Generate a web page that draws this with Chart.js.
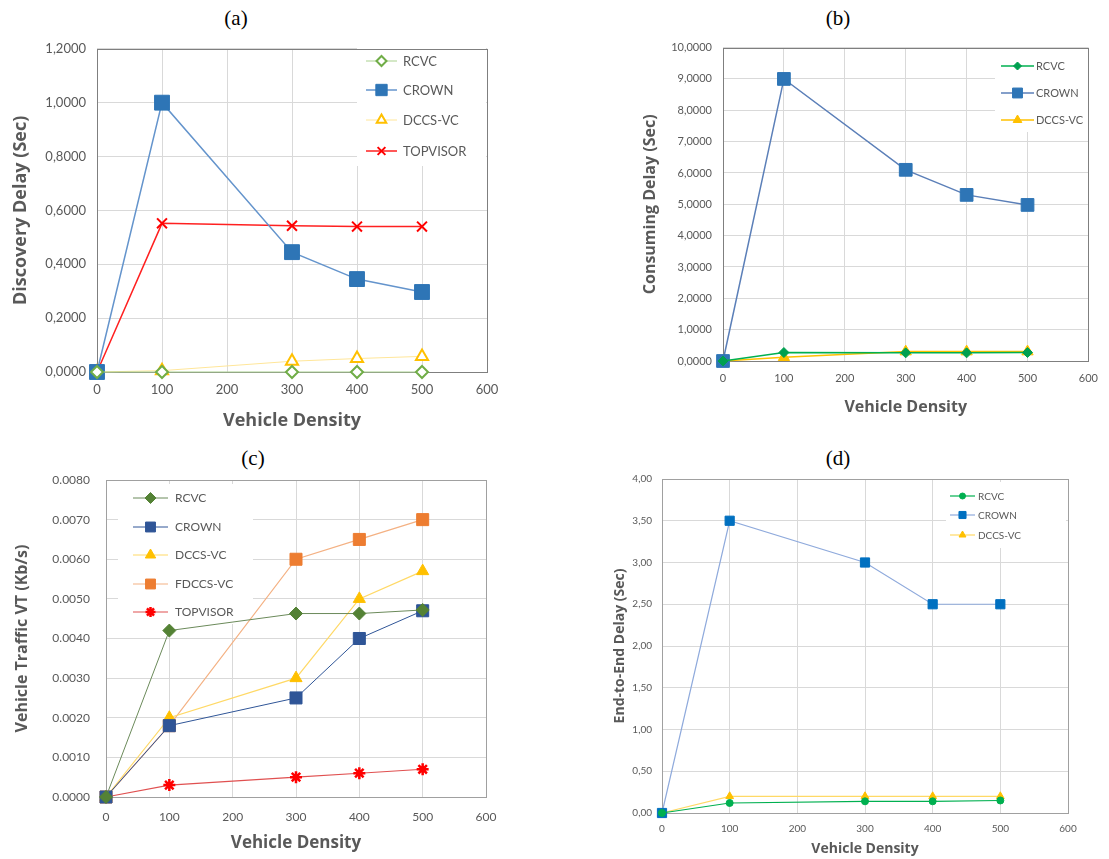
<!DOCTYPE html>
<html>
<head>
<meta charset="utf-8">
<script src="https://cdn.jsdelivr.net/npm/chart.js@4.4.1/dist/chart.umd.min.js"></script>
<style>
  html,body{margin:0;padding:0;background:#fff;}
  #wrap{position:relative;width:1109px;height:859px;background:#fff;overflow:hidden;}
  canvas{position:absolute;}
  .lbl{position:absolute;width:60px;text-align:center;font-family:"Liberation Serif","DejaVu Serif",serif;font-size:21px;color:#000;line-height:24px;}
</style>
</head>
<body>
<div id="wrap">
  <div class="lbl" style="left:206px;top:6px">(a)</div>
  <div class="lbl" style="left:808px;top:6px">(b)</div>
  <div class="lbl" style="left:223px;top:446px">(c)</div>
  <div class="lbl" style="left:808px;top:446px">(d)</div>
  <canvas id="ca" width="560" height="405" style="left:0px;top:30px;width:560px;height:405px"></canvas>
  <canvas id="cb" width="549" height="400" style="left:560px;top:30px;width:549px;height:400px"></canvas>
  <canvas id="cc" width="560" height="419" style="left:0px;top:440px;width:560px;height:419px"></canvas>
  <canvas id="cd" width="549" height="419" style="left:560px;top:440px;width:549px;height:419px"></canvas>
</div>
<script>
// ---------------- DATA ----------------
const density = [0, 100, 300, 400, 500];
const xTickValues = [0, 100, 200, 300, 400, 500, 600];

// (a) Discovery Delay (Sec)
const aRCVC     = [0, 0, 0, 0, 0];
const aCROWN    = [0, 1.0, 0.445, 0.345, 0.297];
const aDCCS     = [0, 0.005, 0.040, 0.050, 0.058];
const aTOPVISOR = [0, 0.552, 0.543, 0.540, 0.540];

// (b) Consuming Delay (Sec)
const bRCVC  = [0, 0.27, 0.26, 0.26, 0.27];
const bCROWN = [0, 9.0, 6.1, 5.3, 4.98];
const bDCCS  = [0, 0.12, 0.30, 0.30, 0.30];

// (c) Vehicle Traffic VT (Kb/s)
const cRCVC     = [0, 0.0042, 0.00463, 0.00463, 0.00472];
const cCROWN    = [0, 0.0018, 0.0025, 0.0040, 0.0047];
const cDCCS     = [0, 0.0020, 0.0030, 0.0050, 0.0057];
const cFDCCS    = [0, 0.0018, 0.0060, 0.0065, 0.0070];
const cTOPVISOR = [0, 0.0003, 0.0005, 0.0006, 0.0007];

// (d) End-to-End Delay (Sec)
const dRCVC  = [0, 0.12, 0.14, 0.14, 0.15];
const dCROWN = [0, 3.5, 3.0, 2.5, 2.5];
const dDCCS  = [0, 0.20, 0.20, 0.20, 0.20];

// tick value lists
const aYTicks = [0, 0.2, 0.4, 0.6, 0.8, 1.0, 1.2];
const bYTicks = [0, 1, 2, 3, 4, 5, 6, 7, 8, 9, 10];
const cYTicks = [0, 0.001, 0.002, 0.003, 0.004, 0.005, 0.006, 0.007, 0.008];
const dYTicks = [0, 0.5, 1.0, 1.5, 2.0, 2.5, 3.0, 3.5, 4.0];

// ---------------- HELPERS ----------------
const pts = arr => density.map((x, i) => ({x: x, y: arr[i]}));

function ds(label, data, o) {
  return {
    label: label,
    data: pts(data),
    borderColor: o.line,
    borderWidth: o.lw || 1.5,
    pointStyle: o.style,
    pointRadius: o.r,
    pointHoverRadius: o.r,
    pointBackgroundColor: o.hollow ? '#ffffff' : o.mk,
    pointBorderColor: o.mk,
    pointBorderWidth: o.mbw || 1,
    tension: o.tension || 0,
    clip: false,
    fill: false,
    legR: o.legR
  };
}

const TICK_COLOR = '#595959';
const TITLE_COLOR = '#595959';

function drawMarker(ctx, style, r, x, y, bw) {
  if (Chart.helpers && Chart.helpers.drawPoint) {
    Chart.helpers.drawPoint(ctx, {pointStyle: style, radius: r, rotation: 0, borderWidth: bw}, x, y);
  } else {
    ctx.beginPath(); ctx.arc(x, y, r, 0, Math.PI * 2); ctx.fill(); ctx.stroke();
  }
}

// legend box + legend entries inside the plot, then the plot frame on top
const legendPlugin = {
  id: 'inLegend',
  beforeDatasetsDraw(chart, args, opts) {
    const ctx = chart.ctx;
    const a = chart.chartArea;
    ctx.save();
    if (opts && opts.rows) {
      const ox = opts.ox, oy = opts.oy;
      if (opts.box) {
        ctx.fillStyle = '#ffffff';
        ctx.fillRect(opts.box.x - ox, opts.box.y - oy, opts.box.w, opts.box.h);
      }
      ctx.font = opts.size + 'px Lato, "Open Sans", sans-serif';
      ctx.textBaseline = 'middle';
      ctx.textAlign = 'left';
      chart.data.datasets.forEach((d, i) => {
        const y = opts.rows[i] - oy;
        const x0 = opts.line[0] - ox, x1 = opts.line[1] - ox;
        ctx.strokeStyle = d.borderColor;
        ctx.lineWidth = d.borderWidth;
        ctx.beginPath(); ctx.moveTo(x0, y); ctx.lineTo(x1, y); ctx.stroke();
        ctx.fillStyle = d.pointBackgroundColor;
        ctx.strokeStyle = d.pointBorderColor;
        ctx.lineWidth = d.pointBorderWidth;
        drawMarker(ctx, d.pointStyle, d.legR || d.pointRadius, (x0 + x1) / 2, y, d.pointBorderWidth);
        ctx.fillStyle = TICK_COLOR;
        ctx.fillText(d.label, opts.textX - ox, y + 0.5);
      });
    }
    ctx.strokeStyle = (opts && opts.frame) || '#8c8c8c';
    ctx.lineWidth = 1;
    ctx.strokeRect(Math.round(a.left) + 0.5, Math.round(a.top) + 0.5,
                   Math.round(a.right - a.left), Math.round(a.bottom - a.top));
    ctx.restore();
  }
};

function makeChart(id, L, datasets, yOpts, xTitle, yTitle, legend) {
  const lhX = L.xTitleSize * 1.2, lhY = L.yTitleSize * 1.2;
  const xScaleH = (L.canvas.y + L.canvas.h) - L.area.b;
  const yScaleW = L.area.l - L.canvas.x;
  new Chart(document.getElementById(id), {
    type: 'line',
    data: {datasets: datasets},
    options: {
      responsive: false,
      animation: false,
      events: [],
      layout: {padding: {left: 0, bottom: 0, top: L.area.t - L.canvas.y, right: (L.canvas.x + L.canvas.w) - L.area.r}},
      plugins: {
        legend: {display: false},
        tooltip: {enabled: false},
        inLegend: Object.assign({ox: L.canvas.x, oy: L.canvas.y, frame: L.frame}, legend)
      },
      scales: {
        x: {
          type: 'linear', min: 0, max: 600,
          afterBuildTicks: s => { s.ticks = xTickValues.map(v => ({value: v})); },
          afterFit: s => { s.height = xScaleH; },
          grid: {color: '#d9d9d9', drawTicks: false, lineWidth: 1},
          border: {display: false},
          ticks: {color: TICK_COLOR, padding: L.xTickPad, font: {family: 'Lato, "Open Sans", sans-serif', size: L.tickSize}, maxRotation: 0},
          title: {display: true, text: xTitle, color: TITLE_COLOR,
                  font: {family: '"Open Sans", sans-serif', size: L.xTitleSize, weight: 'bold'},
                  padding: {top: 0, bottom: (L.canvas.y + L.canvas.h) - L.xTitleY - lhX / 2}}
        },
        y: {
          type: 'linear', min: yOpts.min, max: yOpts.max,
          afterBuildTicks: s => { s.ticks = yOpts.ticks.map(v => ({value: v})); },
          afterFit: s => { s.width = yScaleW; },
          grid: {color: '#d9d9d9', drawTicks: false, lineWidth: 1},
          border: {display: false},
          ticks: {color: TICK_COLOR, padding: L.yTickPad, font: {family: 'Lato, "Open Sans", sans-serif', size: L.tickSize},
                  callback: yOpts.fmt},
          title: {display: true, text: yTitle, color: TITLE_COLOR,
                  font: {family: '"Open Sans", sans-serif', size: L.yTitleSize, weight: 'bold'},
                  padding: {top: L.yTitleX - L.canvas.x - lhY / 2, bottom: 0}}
        }
      }
    },
    plugins: [legendPlugin]
  });
}

const comma4 = v => Number(v).toFixed(4).replace('.', ',');
const dot4 = v => Number(v).toFixed(4);
const comma2 = v => Number(v).toFixed(2).replace('.', ',');

// ---------------- (a) ----------------
makeChart('ca',
  {canvas: {x: 0, y: 30, w: 560, h: 405}, area: {l: 97, t: 47, r: 487, b: 372},
   tickSize: 13, xTickPad: 10, yTickPad: 11, xTitleSize: 18, yTitleSize: 18, xTitleY: 421, yTitleX: 21, frame: '#7f7f7f'},
  [
    ds('RCVC', aRCVC, {line: '#a9d18e', mk: '#70ad47', style: 'rectRot', r: 6, hollow: true, lw: 1, mbw: 2, legR: 5}),
    ds('CROWN', aCROWN, {line: '#6494cc', mk: '#2e75b6', style: 'rect', r: 10.5, lw: 1.5, mbw: 1, legR: 8}),
    ds('DCCS-VC', aDCCS, {line: '#ffe699', mk: '#ffc000', style: 'triangle', r: 7, hollow: true, lw: 1, mbw: 2, legR: 5.5}),
    ds('TOPVISOR', aTOPVISOR, {line: '#ff2020', mk: '#ff0000', style: 'crossRot', r: 7, lw: 1.5, mbw: 2, legR: 5.5})
  ],
  {min: 0, max: 1.2, ticks: aYTicks, fmt: comma4},
  'Vehicle Density', 'Discovery Delay (Sec)',
  {box: {x: 357, y: 48, w: 129, h: 118}, rows: [61, 90, 120, 151], line: [366, 397], textX: 403, size: 13}
);

// ---------------- (b) ----------------
makeChart('cb',
  {canvas: {x: 560, y: 30, w: 549, h: 400}, area: {l: 723, t: 47, r: 1093, b: 361},
   tickSize: 11, xTickPad: 11, yTickPad: 11, xTitleSize: 16, yTitleSize: 16, xTitleY: 407, yTitleX: 650, frame: '#7f7f7f'},
  [
    ds('RCVC', bRCVC, {line: '#00b050', mk: '#00a050', style: 'rectRot', r: 5, lw: 1.5, mbw: 1, legR: 4}),
    ds('CROWN', bCROWN, {line: '#5b7fb8', mk: '#2e75b6', style: 'rect', r: 9, lw: 1.5, mbw: 1, legR: 7}),
    ds('DCCS-VC', bDCCS, {line: '#ffc000', mk: '#ffc000', style: 'triangle', r: 6.5, lw: 1.5, mbw: 1, legR: 5})
  ],
  {min: 0, max: 10, ticks: bYTicks, fmt: comma4},
  'Vehicle Density', 'Consuming Delay (Sec)',
  {box: {x: 995, y: 48, w: 97, h: 84}, rows: [66, 93, 120], line: [1001, 1034], textX: 1036, size: 11}
);

// ---------------- (c) ----------------
makeChart('cc',
  {canvas: {x: 0, y: 440, w: 560, h: 419}, area: {l: 106, t: 480, r: 486, b: 797},
   tickSize: 12, xTickPad: 13, yTickPad: 16, xTitleSize: 17, yTitleSize: 16, xTitleY: 843, yTitleX: 22, frame: '#a0a0a0'},
  [
    ds('RCVC', cRCVC, {line: '#6b8a5a', mk: '#548235', style: 'rectRot', r: 6.5, lw: 1, mbw: 1, legR: 5.5}),
    ds('CROWN', cCROWN, {line: '#2f5597', mk: '#2f5597', style: 'rect', r: 8.5, lw: 1, mbw: 1, legR: 7}),
    ds('DCCS-VC', cDCCS, {line: '#ffd966', mk: '#ffc000', style: 'triangle', r: 7, lw: 1.2, mbw: 1, legR: 6}),
    ds('FDCCS-VC', cFDCCS, {line: '#f4b183', mk: '#ed7d31', style: 'rect', r: 8.5, lw: 1.2, mbw: 1, legR: 7}),
    ds('TOPVISOR', cTOPVISOR, {line: '#e05050', mk: '#ff0000', style: 'star', r: 6, lw: 1.2, mbw: 2.5, legR: 5})
  ],
  {min: 0, max: 0.008, ticks: cYTicks, fmt: dot4},
  'Vehicle Density', 'Vehicle Traffic VT (Kb/s)',
  {box: {x: 118, y: 484, w: 135, h: 140}, rows: [498, 527, 555, 584, 612], line: [133, 168], textX: 175, size: 12}
);

// ---------------- (d) ----------------
makeChart('cd',
  {canvas: {x: 560, y: 440, w: 549, h: 419}, area: {l: 662, t: 479, r: 1068, b: 813},
   tickSize: 10, xTickPad: 10, yTickPad: 10, xTitleSize: 14, yTitleSize: 14, xTitleY: 849, yTitleX: 620, frame: '#a0a0a0'},
  [
    ds('RCVC', dRCVC, {line: '#00b050', mk: '#00b050', style: 'circle', r: 3.5, lw: 1.2, mbw: 1, legR: 3}),
    ds('CROWN', dCROWN, {line: '#8faadc', mk: '#0070c0', style: 'rect', r: 6.5, lw: 1.2, mbw: 1, legR: 5}),
    ds('DCCS-VC', dDCCS, {line: '#ffd966', mk: '#ffc000', style: 'triangle', r: 4.5, lw: 1.2, mbw: 1, legR: 4})
  ],
  {min: 0, max: 4, ticks: dYTicks, fmt: comma2},
  'Vehicle Density', 'End-to-End Delay (Sec)',
  {box: {x: 946, y: 482, w: 120, h: 66}, rows: [496, 515, 535], line: [950, 975], textX: 978, size: 10}
);
</script>
</body>
</html>
